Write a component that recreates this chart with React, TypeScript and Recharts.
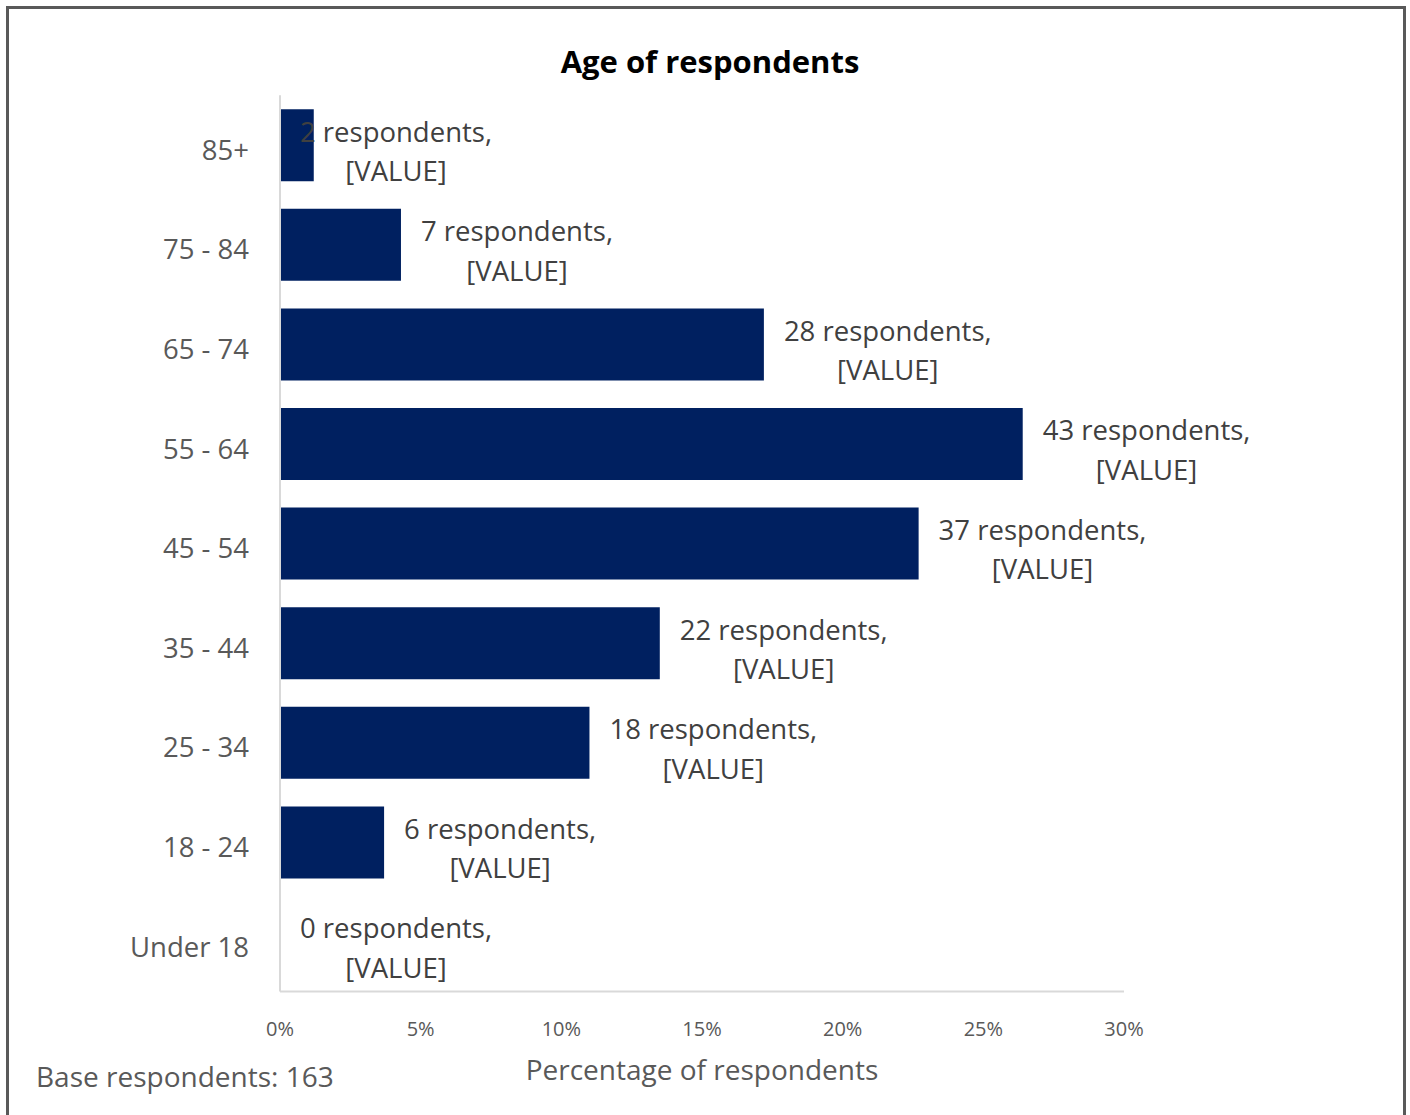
import { ComposedChart, Bar, Line, XAxis, YAxis } from 'recharts';

const AGE_GROUPS = ['85+', '75 - 84', '65 - 74', '55 - 64', '45 - 54', '35 - 44', '25 - 34', '18 - 24', 'Under 18'];
const PERCENTAGES = [1.2, 4.3, 17.2, 26.4, 22.7, 13.5, 11.0, 3.7, 0];
const RESPONDENTS = [2, 7, 28, 43, 37, 22, 18, 6, 0];
const X_TICKS = [0, 5, 10, 15, 20, 25, 30];
const BASE_RESPONDENTS = 163;

const FONT = '"Open Sans", sans-serif';
const LABEL_SIZE = 27.5;

const data = AGE_GROUPS.map((name, i) => ({
  name,
  pct: PERCENTAGES[i],
  count: RESPONDENTS[i],
}));

let ctx: CanvasRenderingContext2D | null = null;
function textWidth(s: string, size: number): number {
  if (!ctx) ctx = document.createElement('canvas').getContext('2d');
  if (!ctx) return s.length * size * 0.5;
  ctx.font = `${size}px "Open Sans"`;
  return ctx.measureText(s).width;
}

// labels drawn as "dots" of an invisible line so the zero row gets one too
function DataLabel(props: any) {
  const { cx, cy, index } = props;
  if (cx == null || cy == null) return null;
  const line1 = `${RESPONDENTS[index]} respondents,`;
  const zeroX = cx - (PERCENTAGES[index] / 30) * 844;
  const left = cx - zeroX < 40 ? zeroX + 20 : cx + 20;
  const mid = left + textWidth(line1, LABEL_SIZE) / 2;
  return (
    <text key={index} textAnchor="middle" fill="#404040" fontSize={LABEL_SIZE} fontFamily={FONT}>
      <tspan x={mid} y={cy - 14} dominantBaseline="central">{line1}</tspan>
      <tspan x={mid} y={cy + 25.5} dominantBaseline="central">[VALUE]</tspan>
    </text>
  );
}

export default function App() {
  return (
    <div>
      <style>{'body{margin:0;overflow:hidden}'}</style>
      <div
        style={{
          position: 'absolute',
          left: 6,
          top: 6,
          boxSizing: 'border-box',
          width: 1400,
          height: 1115,
          border: '3px solid #595959',
          borderBottom: 'none',
          background: '#fff',
          fontFamily: FONT,
          overflow: 'hidden',
        }}
      >
        <div
          style={{
            position: 'absolute',
            top: 31,
            left: 4,
            width: 1394,
            textAlign: 'center',
            fontSize: 31,
            fontWeight: 700,
            color: '#000',
          }}
        >
          Age of respondents
        </div>
        <ComposedChart
          width={1394}
          height={1106}
          data={data}
          layout="vertical"
          margin={{ top: 86.2, right: 279, bottom: 23.4, left: 0 }}
        >
          <XAxis
            type="number"
            domain={[0, 30]}
            ticks={X_TICKS}
            tickFormatter={(v: number) => `${v}%`}
            tick={{ fontSize: 20, fill: '#595959', fontFamily: FONT }}
            tickSize={0}
            tickMargin={30}
            axisLine={{ stroke: '#d9d9d9', strokeWidth: 2 }}
            height={100}
            label={{
              value: 'Percentage of respondents',
              position: 'insideBottom',
              offset: 12,
              fontSize: 28,
              fill: '#595959',
              fontFamily: FONT,
            }}
          />
          <YAxis
            type="category"
            dataKey="name"
            width={271}
            tick={{ fontSize: 27.5, fill: '#595959', fontFamily: FONT, dy: 5 }}
            tickSize={0}
            tickMargin={31}
            axisLine={{ stroke: '#d9d9d9', strokeWidth: 2 }}
          />
          <Bar dataKey="pct" fill="#002060" barSize={72} isAnimationActive={false} />
          <Line
            dataKey="pct"
            stroke="none"
            dot={DataLabel}
            activeDot={false}
            isAnimationActive={false}
          />
        </ComposedChart>
        <div
          style={{
            position: 'absolute',
            left: 27,
            top: 1048,
            fontSize: 28,
            color: '#595959',
          }}
        >
          Base respondents: {BASE_RESPONDENTS}
        </div>
      </div>
    </div>
  );
}
